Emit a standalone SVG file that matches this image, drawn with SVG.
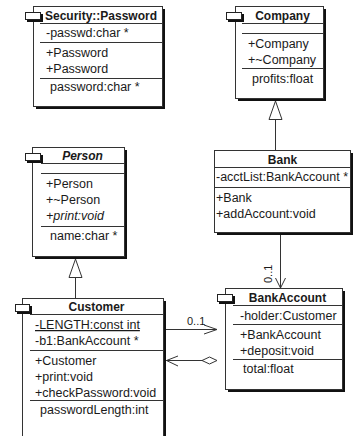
<svg xmlns="http://www.w3.org/2000/svg" width="354" height="436" viewBox="0 0 354 436">
<style>
.bg{fill:#fff}
.sh{fill:#111}
.box{fill:#fff;stroke:#333;stroke-width:1}
.ln{stroke:#333;stroke-width:1;fill:none}
.ic{fill:#fff;stroke:#222;stroke-width:1}
text{font-family:"Liberation Sans",Arial,sans-serif;fill:#1a1a1a}
.t{font-size:12px;font-weight:bold;text-anchor:middle}
.r{font-size:12.5px}
.i{font-style:italic}
.m{font-size:11px}
</style>
<rect class="bg" x="0" y="0" width="354" height="436"/>

<g id="security-password">
<rect class="sh" x="36" y="9" width="129" height="100"/>
<rect class="box" x="33.5" y="6.5" width="129" height="100"/>
<rect class="sh" x="27" y="14" width="16" height="8"/>
<rect class="ic" x="25.5" y="12.5" width="15" height="7"/>
<line class="ln" x1="40" y1="23.5" x2="162.5" y2="23.5"/>
<line class="ln" x1="40" y1="42.5" x2="162.5" y2="42.5"/>
<line class="ln" x1="40" y1="78.5" x2="162.5" y2="78.5"/>
<text class="t" x="101" y="20">Security::Password</text>
<text class="r" x="46" y="37">-passwd:char *</text>
<text class="r" x="46" y="57">+Password</text>
<text class="r" x="46" y="73">+Password</text>
<text class="r" x="50" y="91">password:char *</text>
</g>

<g id="company">
<rect class="sh" x="238" y="9" width="88" height="92"/>
<rect class="box" x="235.5" y="6.5" width="88" height="92"/>
<rect class="sh" x="228" y="14" width="16" height="8"/>
<rect class="ic" x="226.5" y="12.5" width="15" height="7"/>
<line class="ln" x1="242" y1="23.5" x2="323.5" y2="23.5"/>
<line class="ln" x1="242" y1="33.5" x2="323.5" y2="33.5"/>
<line class="ln" x1="242" y1="68.5" x2="323.5" y2="68.5"/>
<text class="t" x="282.5" y="20">Company</text>
<text class="r" x="248" y="48">+Company</text>
<text class="r" x="248" y="64">+~Company</text>
<text class="r" x="252" y="83">profits:float</text>
</g>

<g id="person">
<rect class="sh" x="35" y="150" width="92" height="109"/>
<rect class="box" x="32.5" y="147.5" width="92" height="109"/>
<rect class="sh" x="27" y="155" width="16" height="8"/>
<rect class="ic" x="25.5" y="153.5" width="15" height="7"/>
<line class="ln" x1="41" y1="163.5" x2="124.5" y2="163.5"/>
<line class="ln" x1="41" y1="173.5" x2="124.5" y2="173.5"/>
<line class="ln" x1="41" y1="226.5" x2="124.5" y2="226.5"/>
<text class="t i" x="82.5" y="160">Person</text>
<text class="r" x="46" y="188">+Person</text>
<text class="r" x="46" y="204">+~Person</text>
<text class="r i" x="46" y="220">+print:void</text>
<text class="r" x="50" y="240">name:char *</text>
</g>

<g id="bank">
<rect class="sh" x="217" y="153" width="136" height="82"/>
<rect class="box" x="214.5" y="150.5" width="136" height="82"/>
<line class="ln" x1="214.5" y1="167.5" x2="350.5" y2="167.5"/>
<line class="ln" x1="214.5" y1="187.5" x2="350.5" y2="187.5"/>
<text class="t" x="282.5" y="164">Bank</text>
<text class="r" x="216" y="181">-acctList:BankAccount *</text>
<text class="r" x="216" y="202">+Bank</text>
<text class="r" x="216" y="218">+addAccount:void</text>
</g>

<g id="customer">
<rect class="sh" x="25" y="301" width="141" height="142"/>
<rect class="box" x="22.5" y="298.5" width="141" height="142"/>
<rect class="sh" x="17" y="306" width="15" height="8"/>
<rect class="ic" x="15.5" y="304.5" width="14" height="7"/>
<line class="ln" x1="30" y1="314.5" x2="163.5" y2="314.5"/>
<line class="ln" x1="30" y1="350.5" x2="163.5" y2="350.5"/>
<line class="ln" x1="30" y1="400.5" x2="163.5" y2="400.5"/>
<text class="t" x="96.5" y="311">Customer</text>
<text class="r" x="35" y="329" text-decoration="underline">-LENGTH:const int</text>
<text class="r" x="35" y="345">-b1:BankAccount *</text>
<text class="r" x="35" y="365">+Customer</text>
<text class="r" x="35" y="381">+print:void</text>
<text class="r" x="35" y="397">+checkPassword:void</text>
<text class="r" x="40" y="414">passwordLength:int</text>
</g>

<g id="bankaccount">
<rect class="sh" x="228" y="291" width="117" height="101"/>
<rect class="box" x="225.5" y="288.5" width="117" height="101"/>
<rect class="sh" x="219" y="296" width="16" height="8"/>
<rect class="ic" x="217.5" y="294.5" width="15" height="7"/>
<line class="ln" x1="233" y1="305.5" x2="342.5" y2="305.5"/>
<line class="ln" x1="233" y1="324.5" x2="342.5" y2="324.5"/>
<line class="ln" x1="233" y1="359.5" x2="342.5" y2="359.5"/>
<text class="t" x="287.5" y="302">BankAccount</text>
<text class="r" x="240" y="320">-holder:Customer</text>
<text class="r" x="240" y="339">+BankAccount</text>
<text class="r" x="240" y="355">+deposit:void</text>
<text class="r" x="243" y="373">total:float</text>
</g>

<g id="connectors">
<line class="ln" x1="275.5" y1="150" x2="275.5" y2="119"/>
<polygon class="ln" points="275.5,101 269,119.5 282,119.5" style="fill:#fff"/>
<line class="ln" x1="75.5" y1="298" x2="75.5" y2="277"/>
<polygon class="ln" points="75.5,259 69,277.5 82,277.5" style="fill:#fff"/>
<line class="ln" x1="280.5" y1="235" x2="280.5" y2="288"/>
<polyline class="ln" points="275.5,278 280.5,288 285.5,278"/>
<text class="m" transform="translate(272,283) rotate(-90)">0..1</text>
<line class="ln" x1="166" y1="329.5" x2="217" y2="329.5"/>
<polyline class="ln" points="204,325 217,329.5 204,334"/>
<text class="m" x="187" y="325">0..1</text>
<line class="ln" x1="166" y1="360.5" x2="202" y2="360.5"/>
<polyline class="ln" points="178,356 166.5,360.5 178,366"/>
<polygon class="ln" points="202,360.5 209.5,357 217,360.5 209.5,364" style="fill:#fff"/>
</g>
</svg>
